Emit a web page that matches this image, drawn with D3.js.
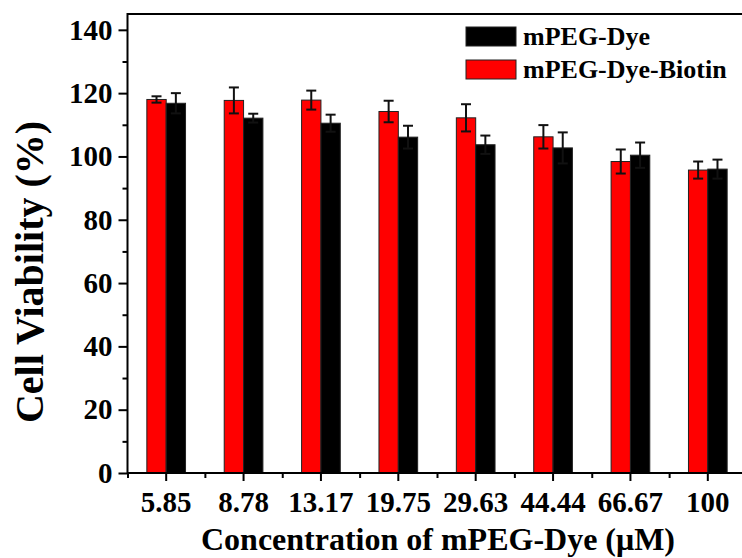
<!DOCTYPE html>
<html>
<head>
<meta charset="utf-8">
<script src="https://cdn.jsdelivr.net/npm/d3@7"></script>
<style>
  body { margin: 0; background: #fff; }
  svg text { font-family: "Liberation Serif", "Times New Roman", serif; font-weight: bold; fill: #000; }
</style>
</head>
<body>
<div id="chart"></div>
<script>
// data
let concentrations = ["5.85", "8.78", "13.17", "19.75", "29.63", "44.44", "66.67", "100"]
let seriesNames = ["mPEG-Dye-Biotin", "mPEG-Dye"]
let biotinMean = [118.0, 117.7, 117.8, 114.2, 112.2, 106.2, 98.4, 95.7]
let biotinErr  = [1.0, 4.1, 3.0, 3.4, 4.3, 3.7, 3.8, 2.7]
let dyeMean    = [116.8, 112.1, 110.5, 106.1, 103.7, 102.7, 100.4, 96.0]
let dyeErr     = [3.2, 1.4, 2.7, 3.6, 2.9, 4.9, 4.0, 3.0]
let yTicks = [0, 20, 40, 60, 80, 100, 120, 140]
let yMinorTicks = [10, 30, 50, 70, 90, 110, 130]

let colors = {"mPEG-Dye-Biotin": "#ff0000", "mPEG-Dye": "#000000"}

let W = 742, H = 558
let plot = {left: 127.5, right: 746.5, top: 14, bottom: 473}

let svg = d3.select("#chart").append("svg")
  .attr("width", W)
  .attr("height", H)

// SCALES
let x = d3.scaleBand()
  .domain(concentrations)
  .range([plot.left, plot.right])
  .paddingInner(0.5)
  .paddingOuter(0.25)

let xSeries = d3.scaleBand()
  .domain(seriesNames)
  .range([0, x.bandwidth()])

let xIdx = d3.scaleLinear()
  .domain([-0.5, concentrations.length - 0.5])
  .range([plot.left, plot.right])

let y = d3.scaleLinear()
  .domain([0, 145])
  .range([plot.bottom, plot.top])

// rows for the bars
let rows = []
concentrations.forEach(function(c, i) {
  rows.push({c: c, s: "mPEG-Dye-Biotin", v: biotinMean[i], e: biotinErr[i]})
  rows.push({c: c, s: "mPEG-Dye", v: dyeMean[i], e: dyeErr[i]})
})

// BARS
svg.selectAll(".bar")
  .data(rows)
  .enter().append("rect")
  .attr("class", "bar")
  .attr("x", function(d) { return x(d.c) + xSeries(d.s) })
  .attr("width", xSeries.bandwidth())
  .attr("y", function(d) { return y(d.v) })
  .attr("height", function(d) { return y(0) - y(d.v) })
  .attr("fill", function(d) { return colors[d.s] })
  .attr("stroke", "#222")
  .attr("stroke-width", 1)

// ERROR BARS
let eb = svg.selectAll(".err")
  .data(rows)
  .enter().append("g")
  .attr("class", "err")
  .attr("transform", function(d) {
    return "translate(" + (x(d.c) + xSeries(d.s) + xSeries.bandwidth() / 2) + ",0)"
  })
  .attr("stroke", "#111")
  .attr("stroke-width", 2)

eb.append("line")
  .attr("y1", function(d) { return y(d.v - d.e) })
  .attr("y2", function(d) { return y(d.v + d.e) })
eb.append("line")
  .attr("x1", -5).attr("x2", 5)
  .attr("y1", function(d) { return y(d.v + d.e) })
  .attr("y2", function(d) { return y(d.v + d.e) })
eb.append("line")
  .attr("x1", -5).attr("x2", 5)
  .attr("y1", function(d) { return y(d.v - d.e) })
  .attr("y2", function(d) { return y(d.v - d.e) })

// AXES
let yAxis = d3.axisLeft(y).tickValues(yTicks).tickSize(9).tickPadding(6)
let yMinor = d3.axisLeft(y).tickValues(yMinorTicks).tickSize(5).tickFormat("")
let xAxis = d3.axisBottom(x).tickSize(8).tickPadding(10)
let xMinor = d3.axisBottom(xIdx)
  .tickValues(d3.range(concentrations.length + 1).map(function(i) { return i - 0.5 }))
  .tickSize(5).tickFormat("")

function styleAxis(g) {
  g.attr("font-family", null)
  g.select(".domain").remove()
  g.selectAll("line").attr("stroke", "#000").attr("stroke-width", 2)
  g.selectAll("text").style("font-size", "29px")
}

svg.append("g").attr("transform", "translate(" + plot.left + ",0)").call(yAxis).call(styleAxis)
svg.append("g").attr("transform", "translate(" + plot.left + ",0)").call(yMinor).call(styleAxis)
svg.append("g").attr("transform", "translate(0," + plot.bottom + ")").call(xAxis).call(styleAxis)
svg.append("g").attr("transform", "translate(0," + plot.bottom + ")").call(xMinor).call(styleAxis)

// frame
svg.append("rect")
  .attr("x", plot.left).attr("y", plot.top)
  .attr("width", plot.right - plot.left).attr("height", plot.bottom - plot.top)
  .attr("fill", "none")
  .attr("stroke", "#000")
  .attr("stroke-width", 2)

// AXIS TITLES
svg.append("text")
  .attr("x", (plot.left + plot.right) / 2 + 1)
  .attr("y", 550)
  .attr("text-anchor", "middle")
  .style("font-size", "32px")
  .text("Concentration of mPEG-Dye (\u03bcM)")

svg.append("text")
  .attr("transform", "translate(43,272) rotate(-90)")
  .attr("text-anchor", "middle")
  .style("font-size", "40px")
  .text("Cell Viability (%)")

// LEGEND
let legendOrder = ["mPEG-Dye", "mPEG-Dye-Biotin"]
let legend = svg.selectAll(".legend")
  .data(legendOrder)
  .enter().append("g")
  .attr("class", "legend")
  .attr("transform", function(d, i) { return "translate(466," + (27 + i * 33) + ")" })

legend.append("rect")
  .attr("width", 50)
  .attr("height", 19)
  .attr("fill", function(d) { return colors[d] })
  .attr("stroke", "#222")
  .attr("stroke-width", 1)

legend.append("text")
  .attr("x", 57)
  .attr("y", 18)
  .style("font-size", "26px")
  .text(function(d) { return d })
</script>
</body>
</html>
